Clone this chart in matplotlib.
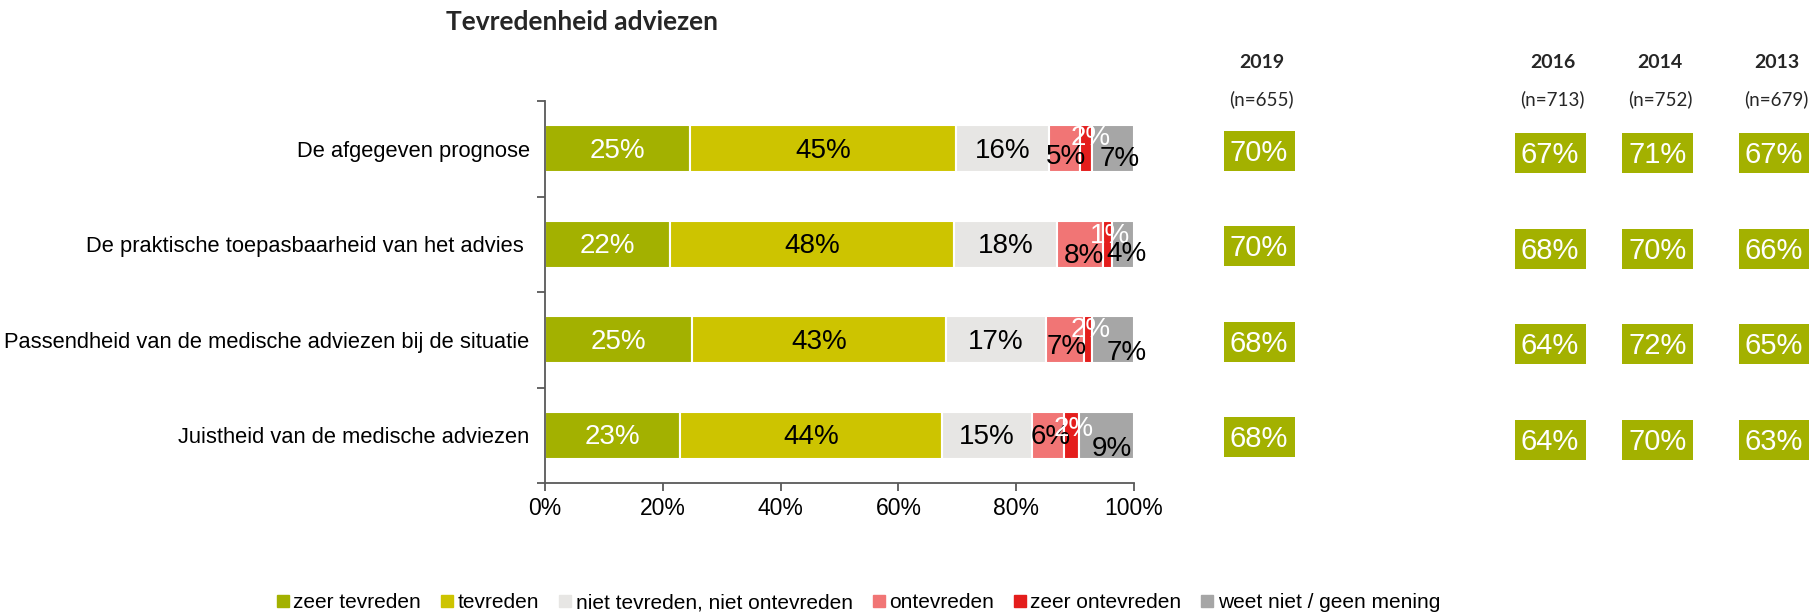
import matplotlib
matplotlib.use("Agg")
import matplotlib.pyplot as plt
from matplotlib.lines import Line2D
import numpy as np

# ---------------- data ----------------
categories = [
    "De afgegeven prognose",
    "De praktische toepasbaarheid van het advies ",
    "Passendheid van de medische adviezen bij de situatie",
    "Juistheid van de medische adviezen",
]
series_names = ["zeer tevreden", "tevreden", "niet tevreden, niet ontevreden",
                "ontevreden", "zeer ontevreden", "weet niet / geen mening"]
zeer_tevreden   = [24.7, 21.3, 25.0, 23.0]
tevreden        = [45.1, 48.1, 43.1, 44.4]
niet_tevreden   = [15.8, 17.6, 16.9, 15.3]
ontevreden      = [5.2, 7.8, 6.5, 5.5]
zeer_ontevreden = [2.0, 1.4, 1.3, 2.5]
weet_niet       = [7.2, 3.8, 7.2, 9.3]
labels_zeer_tevreden   = ["25%", "22%", "25%", "23%"]
labels_tevreden        = ["45%", "48%", "43%", "44%"]
labels_niet_tevreden   = ["16%", "18%", "17%", "15%"]
labels_ontevreden      = ["5%", "8%", "7%", "6%"]
labels_zeer_ontevreden = ["2%", "1%", "2%", "2%"]
labels_weet_niet       = ["7%", "4%", "7%", "9%"]

years = ["2019", "2016", "2014", "2013"]
n_counts = ["(n=655)", "(n=713)", "(n=752)", "(n=679)"]
tevreden_2019 = [70, 70, 68, 68]
tevreden_2016 = [67, 68, 64, 64]
tevreden_2014 = [71, 70, 72, 70]
tevreden_2013 = [67, 66, 65, 63]
x_ticks = [0, 20, 40, 60, 80, 100]

# ---------------- style ----------------
colors = ["#A3B100", "#CDC400", "#E7E6E4", "#F17575", "#E41D1C", "#A6A6A6"]
text_colors = ["white", "black", "black", "black", "white", "black"]
W, H = 1809, 616
fig = plt.figure(figsize=(W / 100, H / 100), dpi=100)
fig.patch.set_facecolor("white")

lab_font = "Liberation Sans"
ax = fig.add_axes([545 / W, 1 - 483 / H, 589 / W, (483 - 101) / H])

series = [zeer_tevreden, tevreden, niet_tevreden, ontevreden, zeer_ontevreden, weet_niet]
series_labels = [labels_zeer_tevreden, labels_tevreden, labels_niet_tevreden,
                 labels_ontevreden, labels_zeer_ontevreden, labels_weet_niet]
ypos = np.arange(len(categories))
left = np.zeros(len(categories))
# label offsets (pixels) for the small segments, per row
small_offsets = {
    3: [(1, -8), (3, -12), (2, -7), (2, -2)],
    4: [(5, 11), (3, 8), (3, 10), (2, 6)],
    5: [(7, -10), (4, -10), (14, -13), (5, -14)],
}
for si, vals in enumerate(series):
    vals = np.array(vals)
    ax.barh(ypos, vals, left=left, height=0.49, color=colors[si],
            edgecolor="white", linewidth=1.5, label=series_names[si])
    for r in range(len(categories)):
        cx = left[r] + vals[r] / 2
        dx, dy = (0, -2)
        if si in small_offsets:
            dx, dy = small_offsets[si][r]
        ax.annotate(series_labels[si][r], (cx, ypos[r]), xytext=(dx, dy),
                    textcoords="offset pixels", ha="center", va="center",
                    fontsize=20, color=text_colors[si], family=lab_font,
                    annotation_clip=False)
    left = left + vals

ax.set_xlim(0, 100)
ax.set_ylim(len(categories) - 0.5, -0.5)
ax.set_xticks(x_ticks)
ax.set_xticklabels([f"{t}%" for t in x_ticks], fontsize=16.5, family=lab_font)
ax.set_yticks(ypos)
ax.set_yticklabels(categories, fontsize=15.75, family=lab_font)
ax.set_yticks(np.arange(-0.5, len(categories), 1), minor=True)
ax.tick_params(axis="y", which="major", length=0, pad=11)
ax.tick_params(axis="y", which="minor", length=6, width=1.3, color="#595959", direction="out")
ax.tick_params(axis="x", which="major", length=6, width=1.3, color="#595959", direction="out", pad=4)
for s in ["top", "right"]:
    ax.spines[s].set_visible(False)
for s in ["left", "bottom"]:
    ax.spines[s].set_color("#595959")
    ax.spines[s].set_linewidth(1.3)

# ---------------- right-hand year columns ----------------
ax2 = fig.add_axes([0, 1 - 483 / H, 1, (483 - 101) / H], facecolor="none")
ax2.set_xlim(0, W)
ax2.set_ylim(len(categories) - 0.5, -0.5)
ax2.axis("off")
col_centers = [1259, 1550, 1657.5, 1774]
col_dy = [0.02, 0.048, 0.048, 0.048]
col_vals = [tevreden_2019, tevreden_2016, tevreden_2014, tevreden_2013]
for ci, vals in enumerate(col_vals):
    yy = ypos + col_dy[ci]
    ax2.barh(yy, 71, left=col_centers[ci] - 35.5, height=0.42, color=colors[0])
    for r, v in enumerate(vals):
        ax2.text(col_centers[ci], yy[r] + 0.02, f"{v}%", ha="center", va="center",
                 fontsize=21, color="white", family=lab_font)

head_font = "Lato"
for ci, (yr, nn) in enumerate(zip(years, n_counts)):
    fig.text(col_centers[ci] / W + 0.0015, 1 - 63 / H, yr, ha="center", va="center",
             fontsize=14, fontweight="bold", family=head_font, color="#262626")
    fig.text(col_centers[ci] / W + 0.0015, 1 - 99 / H, nn, ha="center", va="center",
             fontsize=13.5, family=head_font, color="#262626")

fig.text(582 / W, 1 - 22 / H, "Tevredenheid adviezen", ha="center", va="center",
         fontsize=19, fontweight="bold", family=head_font, color="#262626")

# ---------------- legend ----------------
handles = [Line2D([0], [0], marker="s", linestyle="none", markersize=8,
                  markerfacecolor=c, markeredgecolor=c) for c in colors]
fig.legend(handles, series_names, loc="center", bbox_to_anchor=(859 / W, 1 - 603 / H),
           ncol=6, frameon=False, prop={"family": lab_font, "size": 15},
           handlelength=0.5, handletextpad=0.25, columnspacing=1.0, borderpad=0)

fig.savefig("out.png", dpi=100, facecolor="white")
